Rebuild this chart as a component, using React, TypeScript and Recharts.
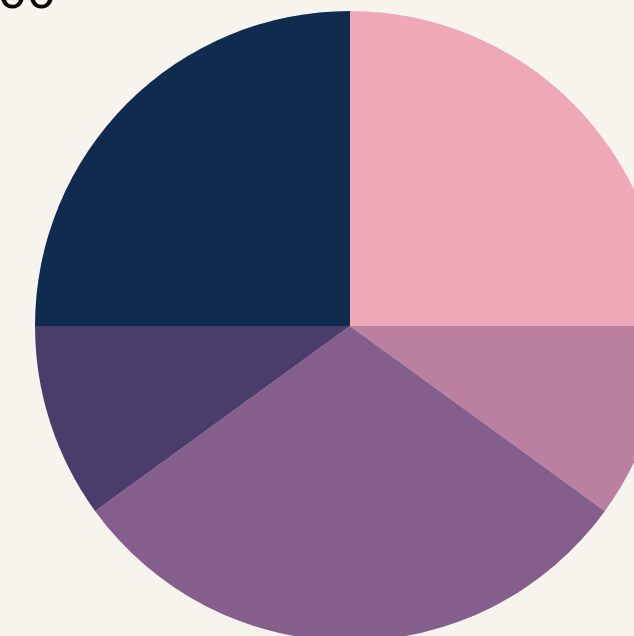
import { Cell, Pie, PieChart } from 'recharts';

const labels = ['A', 'B', 'C', 'D', 'E'];
const values = [25, 10, 30, 10, 25];
const colors = ['#efa8b8', '#bb7f9f', '#855f8b', '#4b3d6b', '#112a50'];

const data = labels.map((name, i) => ({ name, value: values[i] }));

export default function App() {
  return (
    <div
      style={{
        position: 'fixed',
        left: 0,
        top: 0,
        width: 634,
        height: 636,
        background: '#f7f4ee',
        overflow: 'hidden'
      }}
    >
      <div
        style={{
          position: 'absolute',
          left: -2,
          top: -36,
          fontFamily: '"Liberation Sans", Arial, sans-serif',
          fontSize: 52,
          lineHeight: '52px',
          color: '#000'
        }}
      >
        00
      </div>
      <PieChart width={634} height={636} margin={{ top: 0, right: 0, bottom: 0, left: 0 }}>
        <Pie
          data={data}
          dataKey="value"
          cx={350}
          cy={326}
          outerRadius={315}
          startAngle={90}
          endAngle={-270}
          stroke="none"
          isAnimationActive={false}
        >
          {data.map((d, i) => (
            <Cell key={d.name} fill={colors[i]} />
          ))}
        </Pie>
      </PieChart>
    </div>
  );
}
